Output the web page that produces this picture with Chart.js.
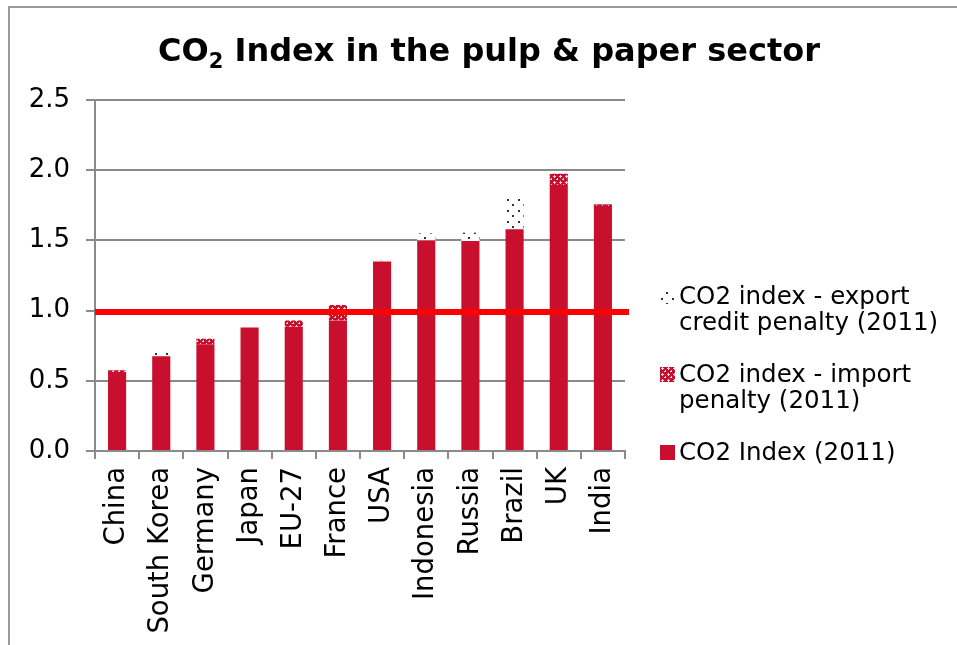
<!DOCTYPE html>
<html>
<head>
<meta charset="utf-8">
<title>CO2 Index in the pulp &amp; paper sector</title>
<script src="https://cdn.jsdelivr.net/npm/chart.js@4.4.1/dist/chart.umd.min.js"></script>
<style>
  html, body { margin: 0; padding: 0; background: #fff; }
  canvas { display: block; }
</style>
</head>
<body>
<canvas id="co2Chart" width="957" height="645"></canvas>
<script>
const countries = ['China', 'South Korea', 'Germany', 'Japan', 'EU-27', 'France', 'USA', 'Indonesia', 'Russia', 'Brazil', 'UK', 'India'];
const co2Index = [0.555, 0.675, 0.76, 0.88, 0.885, 0.93, 1.35, 1.50, 1.495, 1.58, 1.895, 1.745];
const importPenalty = [0.02, 0, 0.04, 0, 0.045, 0.11, 0, 0, 0, 0, 0.08, 0.012];
const exportPenalty = [0, 0.045, 0, 0, 0, 0, 0.005, 0.05, 0.06, 0.24, 0, 0];
const seriesLabels = ['CO2 Index (2011)', 'CO2 index - import penalty (2011)', 'CO2 index - export credit penalty (2011)'];
const yTicks = [0, 0.5, 1.0, 1.5, 2.0, 2.5];
const referenceLevel = 0.99;

const RED = '#c8102e';

// red fill with small white crosses
function makeImportPattern() {
  const c = document.createElement('canvas');
  c.width = 6; c.height = 6;
  const g = c.getContext('2d');
  g.fillStyle = RED;
  g.fillRect(0, 0, 6, 6);
  g.fillStyle = '#f6d3d9';
  g.fillRect(2, 1, 1, 3);
  g.fillRect(1, 2, 3, 1);
  g.fillRect(5, 4, 1, 3);
  g.fillRect(4, 5, 3, 1);
  return g.createPattern(c, 'repeat');
}

// sparse black dots on white
function makeExportPattern() {
  const c = document.createElement('canvas');
  c.width = 11; c.height = 11;
  const g = c.getContext('2d');
  g.fillStyle = '#fff';
  g.fillRect(0, 0, 11, 11);
  g.fillStyle = '#333';
  g.fillRect(1, 1, 2, 2);
  g.fillRect(6, 6, 2, 2);
  return g.createPattern(c, 'repeat');
}

const importFill = makeImportPattern();
const exportFill = makeExportPattern();

const frame = {
  id: 'frame',
  beforeDraw(chart) {
    const ctx = chart.ctx;
    ctx.save();
    ctx.strokeStyle = '#9a9a9a';
    ctx.lineWidth = 2;
    ctx.beginPath();
    ctx.moveTo(9, chart.height);
    ctx.lineTo(9, 7);
    ctx.lineTo(chart.width, 7);
    ctx.stroke();
    ctx.restore();
  }
};

// title with subscript 2
const titlePlugin = {
  id: 'titleSub',
  afterDraw(chart) {
    const ctx = chart.ctx;
    ctx.save();
    ctx.fillStyle = '#000';
    ctx.textBaseline = 'alphabetic';
    const big = 'bold 32px "DejaVu Sans"';
    const small = 'bold 21px "DejaVu Sans"';
    ctx.font = big;
    const w1 = ctx.measureText('CO').width;
    const w3 = ctx.measureText(' Index in the pulp & paper sector').width;
    ctx.font = small;
    const w2 = ctx.measureText('2').width;
    let x = 489 - (w1 + w2 + w3) / 2;
    const base = 61;
    ctx.font = big;
    ctx.fillText('CO', x, base);
    x += w1;
    ctx.font = small;
    ctx.fillText('2', x, base + 7);
    x += w2;
    ctx.font = big;
    ctx.fillText(' Index in the pulp & paper sector', x, base);
    ctx.restore();
  }
};

// thick red line at the reference level
const refLine = {
  id: 'refLine',
  afterDatasetsDraw(chart) {
    const ctx = chart.ctx;
    const y = chart.scales.y.getPixelForValue(referenceLevel);
    const area = chart.chartArea;
    ctx.save();
    ctx.fillStyle = '#ff0000';
    ctx.fillRect(area.left, y - 3, area.right + 4 - area.left, 6);
    ctx.restore();
  }
};

function wrapText(ctx, text, maxWidth) {
  const words = text.split(' ');
  const lines = [];
  let line = '';
  words.forEach(w => {
    const test = line ? line + ' ' + w : w;
    if (ctx.measureText(test).width > maxWidth && line) {
      lines.push(line);
      line = w;
    } else {
      line = test;
    }
  });
  if (line) lines.push(line);
  return lines;
}

const sideLegend = {
  id: 'sideLegend',
  afterDraw(chart) {
    const ctx = chart.ctx;
    ctx.save();
    ctx.font = '24.5px "DejaVu Sans"';
    ctx.fillStyle = '#000';
    ctx.textBaseline = 'alphabetic';
    const lineH = 26;
    let y = 304;
    const items = chart.data.datasets.slice().reverse();
    items.forEach(ds => {
      ctx.fillStyle = ds.backgroundColor;
      ctx.fillRect(660, y - 15, 15, 15);
      ctx.fillStyle = '#000';
      const lines = wrapText(ctx, ds.label, 272);
      lines.forEach((l, i) => ctx.fillText(l, 679, y + i * lineH));
      y += lines.length * lineH + 26;
    });
    ctx.restore();
  }
};

new Chart(document.getElementById('co2Chart'), {
  type: 'bar',
  data: {
    labels: countries,
    datasets: [
      { label: seriesLabels[0], data: co2Index, backgroundColor: RED },
      { label: seriesLabels[1], data: importPenalty, backgroundColor: importFill },
      { label: seriesLabels[2], data: exportPenalty, backgroundColor: exportFill }
    ]
  },
  options: {
    responsive: false,
    animation: false,
    events: [],
    layout: { padding: { left: 0, top: 100, right: 332, bottom: 0 } },
    datasets: {
      bar: { categoryPercentage: 1, barPercentage: 0.41, borderWidth: 0 }
    },
    plugins: {
      legend: { display: false },
      title: { display: false },
      tooltip: { enabled: false }
    },
    scales: {
      x: {
        stacked: true,
        grid: { drawOnChartArea: false, drawTicks: true, tickLength: 8, color: '#8a8a8a', lineWidth: 2 },
        border: { color: '#8a8a8a', width: 2 },
        ticks: {
          color: '#000',
          font: { family: '"DejaVu Sans"', size: 27.5 },
          minRotation: 90,
          maxRotation: 90,
          padding: 8,
          autoSkip: false
        },
        afterFit(scale) { scale.height = 194; }
      },
      y: {
        stacked: true,
        min: yTicks[0],
        max: yTicks[yTicks.length - 1],
        afterBuildTicks(scale) { scale.ticks = yTicks.map(v => ({ value: v })); },
        grid: { color: '#8a8a8a', lineWidth: 2, tickLength: 9 },
        border: { color: '#8a8a8a', width: 2 },
        ticks: {
          color: '#000',
          font: { family: '"DejaVu Sans"', size: 26 },
          padding: 16,
          callback: v => Number(v).toFixed(1)
        },
        afterFit(scale) { scale.width = 95; }
      }
    }
  },
  plugins: [frame, refLine, titlePlugin, sideLegend]
});
</script>
</body>
</html>
